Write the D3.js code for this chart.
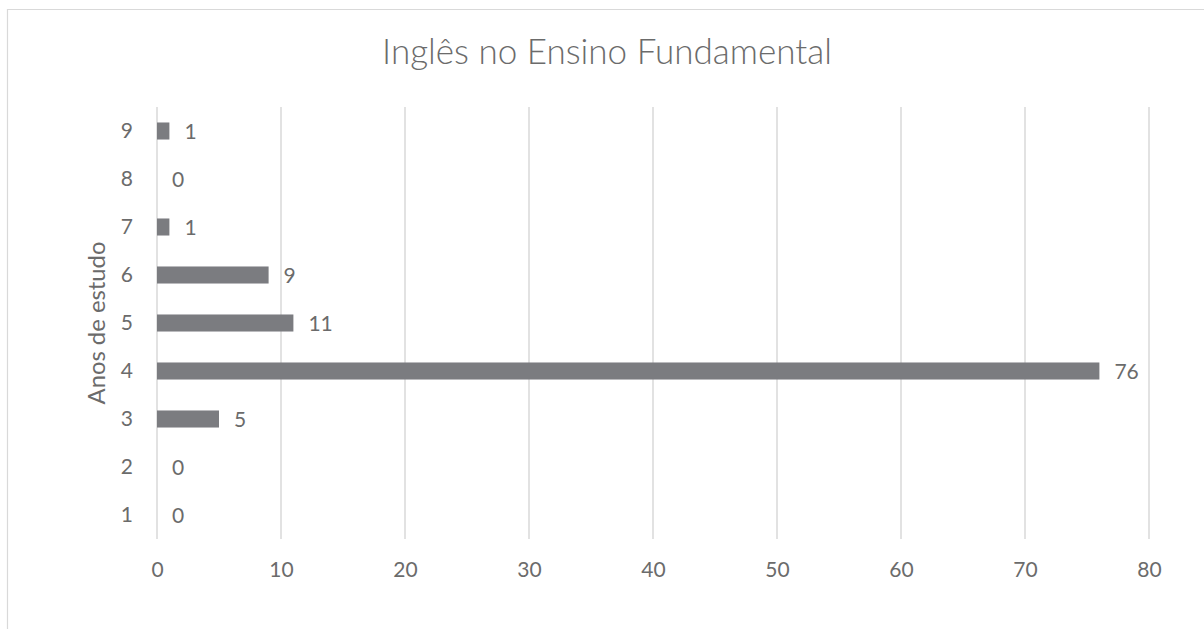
<!DOCTYPE html>
<html>
<head>
<meta charset="utf-8">
<script src="https://cdn.jsdelivr.net/npm/d3@7"></script>
<style>
  html, body { margin: 0; padding: 0; background: #fff; }
  svg { display: block; font-family: Lato, "Open Sans", sans-serif; }
</style>
</head>
<body>
<svg id="chart" width="1204" height="629"></svg>
<script>
// Anos de estudo (categorias) e número de respostas por ano
const years = ["1", "2", "3", "4", "5", "6", "7", "8", "9"];
const counts = [0, 0, 5, 76, 11, 9, 1, 0, 1];
const xTicks = [0, 10, 20, 30, 40, 50, 60, 70, 80];
const title = "Inglês no Ensino Fundamental";
const yTitle = "Anos de estudo";

const W = 1204, H = 629;
const margin = { left: 157, right: 55, top: 107, bottom: 90 };
const textColor = "#6b6b6b";
const gridColor = "#d9d9d9";
const barColor = "#7b7c80";
const labelSize = "21px";

const svg = d3.select("#chart");

// Fit a text element's font size to a target width
function fitWidth(sel, base, target) {
  const len = sel.node().getComputedTextLength();
  if (len > 0) sel.style("font-size", (base * target / len).toFixed(2) + "px");
}

// Moldura do gráfico
svg.append("path")
  .attr("d", `M7.5,${H + 5} V9.5 H${W + 5}`)
  .attr("fill", "none")
  .attr("stroke", gridColor)
  .attr("stroke-width", 1.2);

const x = d3.scaleLinear().domain([0, 80]).range([margin.left, W - margin.right]);
const y = d3.scaleBand().domain(years.slice().reverse())
  .range([margin.top, H - margin.bottom]).paddingInner(0.645).paddingOuter(0.3225);

// Linhas de grade verticais
svg.append("g").selectAll("line").data(xTicks).join("line")
  .attr("x1", d => x(d)).attr("x2", d => x(d))
  .attr("y1", margin.top).attr("y2", H - margin.bottom)
  .attr("stroke", gridColor).attr("stroke-width", 1.5);

// Eixo x
const xAxis = svg.append("g")
  .attr("transform", `translate(0,${H - margin.bottom})`)
  .call(d3.axisBottom(x).tickValues(xTicks).tickSize(0).tickPadding(23).tickFormat(d3.format("d")));
xAxis.select(".domain").remove();
xAxis.selectAll("text").attr("fill", textColor).style("font-size", labelSize).style("font-family", "Lato, sans-serif");

// Eixo y
const yAxis = svg.append("g")
  .attr("transform", `translate(${margin.left},0)`)
  .call(d3.axisLeft(y).tickSize(0).tickPadding(24));
yAxis.select(".domain").remove();
yAxis.selectAll("text").attr("fill", textColor).style("font-size", labelSize).style("font-family", "Lato, sans-serif");

// Barras
const data = years.map((k, i) => ({ k, v: counts[i] }));
svg.append("g").selectAll("rect").data(data).join("rect")
  .attr("x", x(0))
  .attr("y", d => y(d.k))
  .attr("width", d => x(d.v) - x(0))
  .attr("height", y.bandwidth())
  .attr("fill", barColor);

// Rótulos de valor
svg.append("g").selectAll("text").data(data).join("text")
  .attr("x", d => x(d.v) + 15)
  .attr("y", d => y(d.k) + y.bandwidth() / 2)
  .attr("dy", "0.36em")
  .attr("fill", textColor)
  .style("font-size", labelSize)
  .text(d => d.v);

// Título do eixo y
const yt = svg.append("text")
  .attr("transform", `translate(105,${(margin.top + H - margin.bottom) / 2}) rotate(-90)`)
  .attr("text-anchor", "middle")
  .attr("fill", textColor)
  .style("font-size", "21px")
  .text(yTitle);
fitWidth(yt, 21, 163);

// Título
const t = svg.append("text")
  .attr("x", 607)
  .attr("y", 64)
  .attr("text-anchor", "middle")
  .attr("fill", textColor)
  .style("font-size", "34px")
  .style("font-weight", 300)
  .text(title);
fitWidth(t, 34, 450);
</script>
</body>
</html>
